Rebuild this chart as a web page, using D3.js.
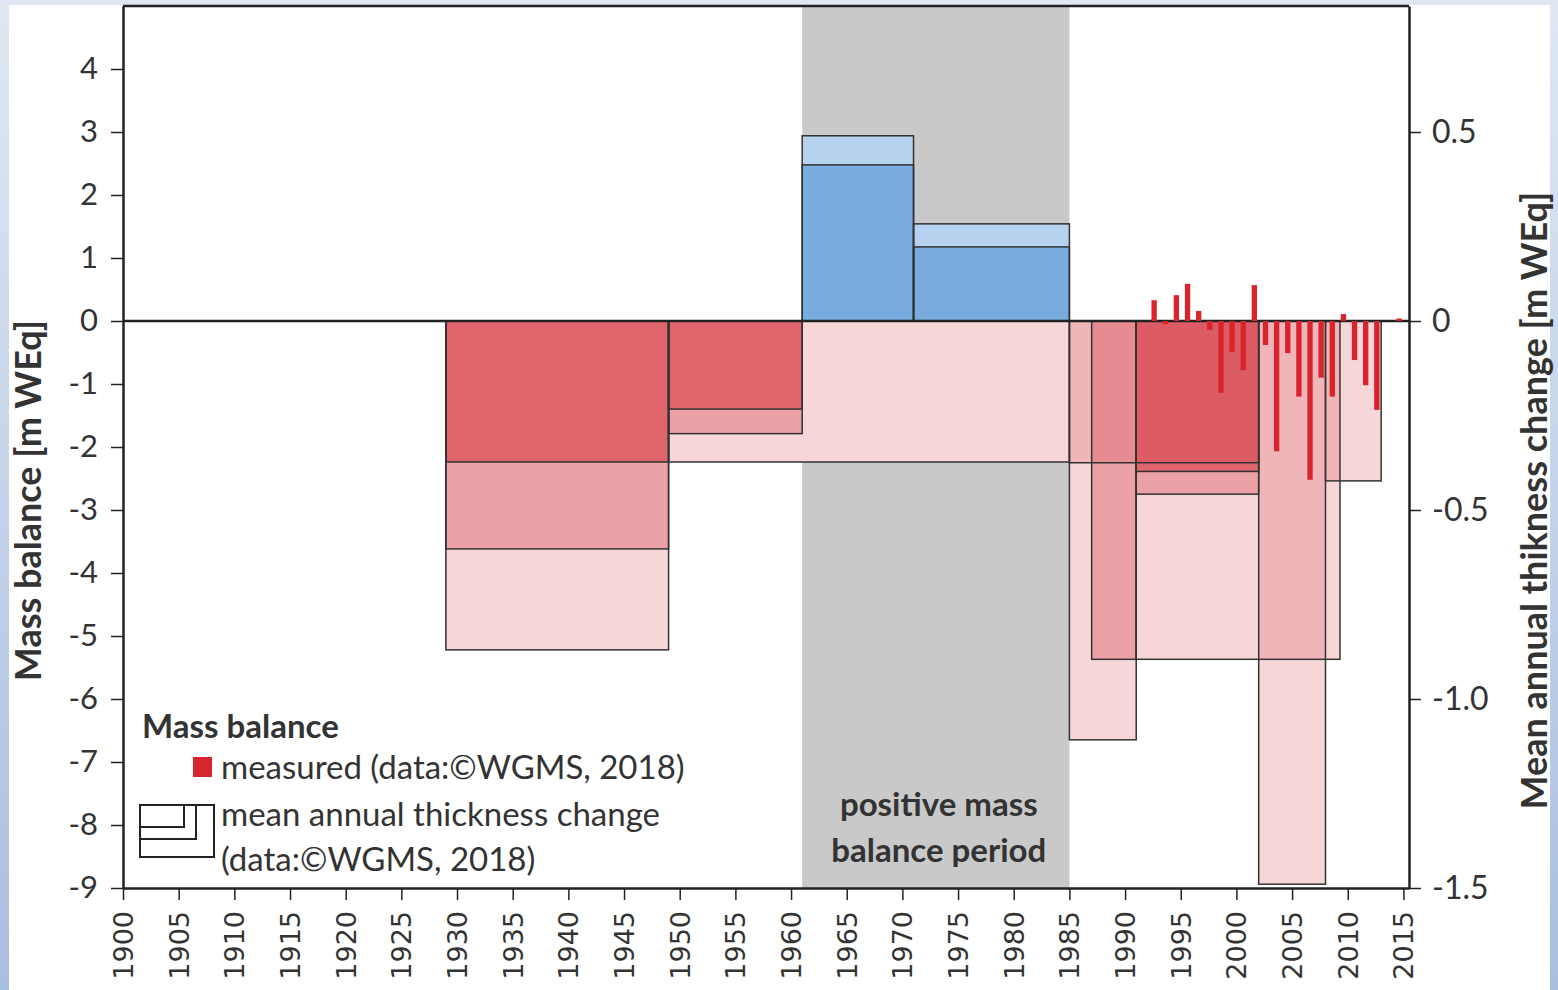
<!DOCTYPE html>
<html>
<head>
<meta charset="utf-8">
<script src="https://cdn.jsdelivr.net/npm/d3@7"></script>
<style>
  html, body { margin: 0; padding: 0; background: #ffffff; }
  svg { display: block; }
</style>
</head>
<body>
<svg id="chart" width="1558" height="990"></svg>
<script>
// Annual (glaciological) mass balance, m WEq — left axis
const measuredYears  = [1992, 1993, 1994, 1995, 1996, 1997, 1998, 1999, 2000, 2001, 2002,
                        2003, 2004, 2005, 2006, 2007, 2008, 2009, 2010, 2011, 2012, 2014];
const measuredValues = [0.33, -0.05, 0.41, 0.59, 0.16, -0.14, -1.14, -0.49, -0.78, 0.57, -0.38,
                        -2.07, -0.51, -1.20, -2.52, -0.90, -1.20, 0.11, -0.62, -1.02, -1.41, 0.04];

// Survey periods: mean annual thickness change, m WEq per year — right axis
const periodStart  = [1929, 1929, 1929, 1949, 1949, 1949, 1961, 1961, 1971, 1971,
                      1985, 1987, 1985, 1991, 1991, 1991, 2002, 2008];
const periodEnd    = [1949, 1949, 1949, 1985, 1961, 1961, 1971, 1971, 1985, 1985,
                      1991, 1991, 2002, 2002, 2002, 2009.3, 2008, 2013];
const periodChange = [-0.870, -0.603, -0.373, -0.373, -0.298, -0.233, 0.490, 0.413, 0.257, 0.196,
                      -1.108, -0.895, -0.375, -0.458, -0.398, -0.895, -1.490, -0.423];

// Period of positive mass balance (shaded)
const positivePeriod = [1961, 1985];

// Axis ticks
const leftTicks = [-9, -8, -7, -6, -5, -4, -3, -2, -1, 0, 1, 2, 3, 4];
const rightTicks = [-1.5, -1.0, -0.5, 0, 0.5];
const rightTickLabels = ["-1.5", "-1.0", "-0.5", "0", "0.5"];
const yearTicks = d3.range(1900, 2016, 5);

const W = 1558, H = 990;
const svg = d3.select("#chart");

// page frame
const defs = svg.append("defs");
const grad = defs.append("linearGradient").attr("id", "edge").attr("x1", 0).attr("y1", 0).attr("x2", 0).attr("y2", 1);
grad.append("stop").attr("offset", "0%").attr("stop-color", "#dfe7f3");
grad.append("stop").attr("offset", "100%").attr("stop-color", "#a9bfdf");
svg.append("rect").attr("width", W).attr("height", H).attr("fill", "url(#edge)");
svg.append("rect").attr("x", 9).attr("y", 5).attr("width", W - 17).attr("height", H - 5).attr("fill", "#ffffff");

const x = d3.scaleLinear().domain([1900, 2015.5]).range([123, 1409]);
const yL = d3.scaleLinear().domain([-9, 5]).range([888, 6]);
const yR = d3.scaleLinear().domain([-1.5, 5 / 6]).range([888, 6]);

const labelFont = "Lato, 'Open Sans', sans-serif";
const plot = svg.append("g");

// shaded positive mass balance period
plot.append("rect")
  .attr("x", x(positivePeriod[0]))
  .attr("y", yL(5))
  .attr("width", x(positivePeriod[1]) - x(positivePeriod[0]))
  .attr("height", yL(-9) - yL(5))
  .attr("fill", "#c9c9c9");

const midX = x((positivePeriod[0] + positivePeriod[1]) / 2) + 3;
plot.append("text")
  .attr("text-anchor", "middle")
  .attr("font-family", labelFont)
  .attr("font-weight", "bold")
  .attr("font-size", 33)
  .attr("fill", "#333")
  .selectAll("tspan")
  .data(["positive mass", "balance period"])
  .join("tspan")
  .attr("x", midX)
  .attr("y", (d, i) => 816 + i * 46)
  .text(d => d);

// survey-period boxes
const periods = periodStart.map((s, i) => ({ start: s, end: periodEnd[i], v: periodChange[i] }));
// nesting depth: how many boxes of the same sign fully enclose this one
periods.forEach((p, i) => {
  p.depth = periods.filter((q, j) => j !== i &&
    Math.sign(q.v) === Math.sign(p.v) &&
    q.start <= p.start && q.end >= p.end && Math.abs(q.v) >= Math.abs(p.v)).length;
});
periods.sort((a, b) => a.depth - b.depth || Math.abs(b.v) - Math.abs(a.v));

const redAlpha = [0.21, 0.34, 0.6, 0.3];
const blueAlpha = [0.39, 0.55, 0.55];
const boxX = d => x(d.start);
const boxW = d => x(d.end) - x(d.start);
const boxY = d => Math.min(yR(d.v), yR(0));
const boxH = d => Math.abs(yR(d.v) - yR(0));

const boxes = plot.append("g");
boxes.selectAll("rect.back").data(periods).join("rect")
  .attr("class", "back")
  .attr("x", boxX).attr("y", boxY).attr("width", boxW).attr("height", boxH)
  .attr("fill", "#ffffff");
boxes.selectAll("rect.fill").data(periods).join("rect")
  .attr("class", "fill")
  .attr("x", boxX).attr("y", boxY).attr("width", boxW).attr("height", boxH)
  .attr("fill", d => d.v > 0 ? "rgb(70,140,210)" : "rgb(215,60,70)")
  .attr("fill-opacity", d => d.v > 0 ? blueAlpha[Math.min(d.depth, 2)] : redAlpha[Math.min(d.depth, 3)]);
boxes.selectAll("rect.edge").data(periods).join("rect")
  .attr("class", "edge")
  .attr("x", boxX).attr("y", boxY).attr("width", boxW).attr("height", boxH)
  .attr("fill", "none")
  .attr("stroke", "#333")
  .attr("stroke-width", 1.5);

// zero line
plot.append("line")
  .attr("x1", x(1900)).attr("x2", x(2015.5))
  .attr("y1", yL(0)).attr("y2", yL(0))
  .attr("stroke", "#222").attr("stroke-width", 2.5);

// measured annual mass balance bars
plot.append("g").selectAll("rect").data(measuredYears).join("rect")
  .attr("x", d => x(d + 0.37))
  .attr("width", x(1900.48) - x(1900))
  .attr("y", (d, i) => Math.min(yL(measuredValues[i]), yL(0)))
  .attr("height", (d, i) => Math.abs(yL(measuredValues[i]) - yL(0)))
  .attr("fill", "#d8252d");

// axes
const axL = svg.append("g").attr("transform", `translate(${x(1900)},0)`)
  .call(d3.axisLeft(yL).tickValues(leftTicks).tickFormat(d => String(d)).tickSize(12).tickSizeOuter(0).tickPadding(13));
const axR = svg.append("g").attr("transform", `translate(${x(2015.5)},0)`)
  .call(d3.axisRight(yR).tickValues(rightTicks).tickFormat((d, i) => rightTickLabels[i]).tickSize(12).tickSizeOuter(0).tickPadding(11));
const axB = svg.append("g").attr("transform", `translate(0,${yL(-9)})`)
  .call(d3.axisBottom(x).tickValues(yearTicks).tickFormat(d => String(d)).tickSize(12).tickSizeOuter(0));

axL.selectAll("text").attr("font-family", labelFont).attr("font-size", 31).attr("fill", "#333");
axR.selectAll("text").attr("font-family", labelFont).attr("font-size", 32).attr("fill", "#333");
axB.selectAll("text")
  .attr("font-family", "'DejaVu Sans', sans-serif").attr("font-size", 27).attr("fill", "#333")
  .attr("transform", "rotate(-90)")
  .attr("text-anchor", "end")
  .attr("x", -23).attr("y", 0).attr("dy", "0.35em");
[axL, axR, axB].forEach(a => {
  a.select(".domain").attr("stroke", "#222").attr("stroke-width", 2.5);
  a.selectAll(".tick line").attr("stroke", "#222").attr("stroke-width", 1.5);
});

// top border
svg.append("line")
  .attr("x1", x(1900)).attr("x2", x(2015.5)).attr("y1", yL(5)).attr("y2", yL(5))
  .attr("stroke", "#222").attr("stroke-width", 2.5);

// axis titles
svg.append("text")
  .attr("transform", `translate(41,${yL(-2.85)}) rotate(-90)`)
  .attr("text-anchor", "middle")
  .attr("font-family", labelFont).attr("font-weight", "bold").attr("font-size", 36).attr("fill", "#333")
  .text("Mass balance [m WEq]");
svg.append("text")
  .attr("transform", `translate(1547,${yL(-2.85)}) rotate(-90)`)
  .attr("text-anchor", "middle")
  .attr("font-family", labelFont).attr("font-weight", "bold").attr("font-size", 36).attr("fill", "#333")
  .text("Mean annual thikness change [m WEq]");

// legend
const leg = svg.append("g").attr("font-family", labelFont).attr("fill", "#333");
leg.append("text").attr("x", 142).attr("y", 738).attr("font-weight", "bold").attr("font-size", 33).text("Mass balance");
leg.append("rect").attr("x", 193).attr("y", 757).attr("width", 19).attr("height", 20).attr("fill", "#d8252d");
leg.append("text").attr("x", 221).attr("y", 779).attr("font-size", 33).text("measured (data:©WGMS, 2018)");
const icon = [[74, 52], [56, 34], [44, 22]];
leg.selectAll("rect.icon").data(icon).join("rect")
  .attr("class", "icon")
  .attr("x", 140).attr("y", 805)
  .attr("width", d => d[0]).attr("height", d => d[1])
  .attr("fill", "none").attr("stroke", "#222").attr("stroke-width", 2);
leg.append("text").attr("x", 221).attr("y", 826).attr("font-size", 33).text("mean annual thickness change");
leg.append("text").attr("x", 221).attr("y", 871).attr("font-size", 33).text("(data:©WGMS, 2018)");
</script>
</body>
</html>
